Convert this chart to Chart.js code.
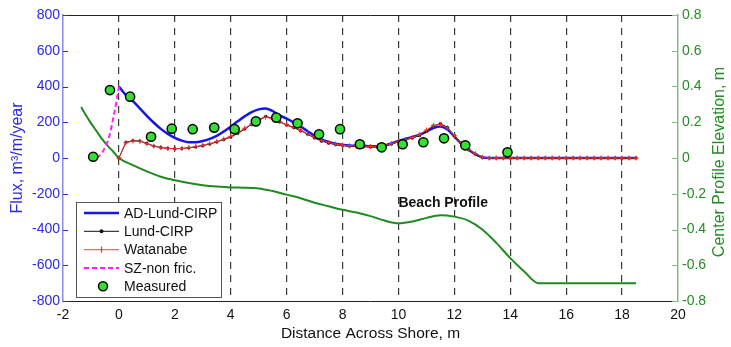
<!DOCTYPE html>
<html>
<head>
<meta charset="utf-8">
<script src="https://cdn.jsdelivr.net/npm/chart.js@4"></script>
<style>
  html, body { margin: 0; padding: 0; background: #fff; }
  canvas { display: block; }
</style>
</head>
<body>
<canvas id="flux-chart" width="731" height="347"></canvas>
<script>
// Data
const modelX = [
    0, 0.25, 0.5, 0.75, 1, 1.25, 1.5, 1.75, 2, 2.25, 2.5, 2.75, 3, 3.25, 3.5, 3.75,
    4, 4.25, 4.5, 4.75, 5, 5.25, 5.5, 5.75, 6, 6.25, 6.5, 6.75, 7, 7.25, 7.5, 7.75,
    8, 8.25, 8.5, 8.75, 9, 9.25, 9.5, 9.75, 10, 10.25, 10.5, 10.75, 11, 11.25, 11.5, 11.75,
    12, 12.25, 12.5, 12.75, 13, 13.25, 13.5, 13.75, 14, 14.25, 14.5, 14.75, 15, 15.25, 15.5, 15.75,
    16, 16.25, 16.5, 16.75, 17, 17.25, 17.5, 17.75, 18, 18.25, 18.5
];
const adLundCirp = [
    400, 352, 318, 278, 236, 197, 163, 135, 113, 97, 88, 88, 95, 107, 124, 148,
    176, 205, 233, 257, 272, 277, 262, 238, 220, 199, 176, 150, 124, 104, 90, 80,
    74, 70, 68, 67, 66, 66, 70, 82, 95, 107, 118, 130, 148, 168, 176, 160,
    120, 80, 48, 22, 4, 0, 0, 0, 0, 0, 0, 0, 0, 0, 0, 0,
    0, 0, 0, 0, 0, 0, 0, 0, 0, 0, 0
];
const lundCirp = [
    0, 88, 97, 95, 82, 67, 59, 54, 52, 53, 57, 62, 69, 78, 90, 103,
    117, 137, 162, 188, 214, 233, 222, 202, 184, 170, 153, 133, 112, 94, 83, 75,
    70, 66, 64, 63, 62, 61, 65, 78, 90, 101, 112, 125, 150, 180, 192, 172,
    125, 80, 48, 22, 3, 0, 0, 0, 0, 0, 0, 0, 0, 0, 0, 0,
    0, 0, 0, 0, 0, 0, 0, 0, 0, 0, 0
];
const watanabe = [
    0, 85, 95, 93, 80, 66, 58, 53, 52, 54, 58, 64, 71, 80, 92, 106,
    121, 141, 166, 190, 212, 228, 220, 203, 187, 172, 155, 136, 115, 97, 86, 78,
    72, 68, 66, 65, 65, 66, 70, 80, 91, 102, 114, 130, 156, 182, 188, 168,
    124, 82, 50, 24, 5, 0, 0, 0, 0, 0, 0, 0, 0, 0, 0, 0,
    0, 0, 0, 0, 0, 0, 0, 0, 0, 0, 0
];

const szX = [-0.8, -0.7, -0.6, -0.5, -0.4, -0.3, -0.2, -0.1, 0];
const szNonFric = [0, 12, 30, 58, 95, 150, 225, 305, 400];

const measuredX = [-0.92, -0.32, 0.4, 1.15, 1.89, 2.64, 3.41, 4.14, 4.9, 5.63,
    6.39, 7.16, 7.91, 8.62, 9.4, 10.15, 10.89, 11.63, 12.39, 13.9];
const measuredY = [7, 380, 343, 119, 164, 161, 170, 161, 205, 226,
    194, 133, 161, 77, 60, 77, 88, 110, 71, 32];

const profileX = [-1.35, -1.2, -1, -0.8, -0.6, -0.4, -0.2, 0, 0.5, 1, 1.5, 2, 2.5, 3, 3.5, 4,
    4.5, 5, 5.5, 6, 6.5, 7, 7.5, 8, 8.5, 9, 9.5, 10, 10.5, 11, 11.5, 12,
    12.5, 13, 13.5, 14, 14.5, 15, 16, 17, 18, 18.5];
const profileZ = [0.285, 0.245, 0.195, 0.15, 0.105, 0.068, 0.035, 0, -0.04, -0.075, -0.105, -0.125, -0.14, -0.152, -0.16, -0.165,
    -0.166, -0.17, -0.185, -0.205, -0.225, -0.25, -0.27, -0.29, -0.305, -0.325, -0.35, -0.365, -0.355, -0.335, -0.32, -0.328,
    -0.35, -0.4, -0.475, -0.56, -0.635, -0.7, -0.7, -0.7, -0.7, -0.7];

const xTicks = [-2, 0, 2, 4, 6, 8, 10, 12, 14, 16, 18, 20];

// Colours
const BLUE = '#1616e6';
const BLUE_TEXT = '#2a2ae0';
const BLUE_AXIS = '#8a8af5';
const GREEN = '#1f8a1f';
const GREEN_TEXT = '#238c23';
const GREEN_AXIS = '#7cc07c';
const RED = '#e83030';
const MAGENTA = '#ff22ff';
const DOT_FILL = '#33e033';
const FONT = '"Liberation Sans", Arial, Helvetica, sans-serif';

function toPoints(xs, ys) {
    return xs.map((x, i) => ({ x: x, y: ys[i] }));
}

// Inward tick marks, top border, right title, annotation and the boxed legend
const decorPlugin = {
    id: 'decor',
    afterDraw(chart) {
        const { ctx, chartArea } = chart;
        const yL = chart.scales.y;
        const yR = chart.scales.y2;
        const xS = chart.scales.x;

        ctx.save();
        // top border
        ctx.strokeStyle = '#222';
        ctx.lineWidth = 1;
        ctx.beginPath();
        ctx.moveTo(chartArea.left, chartArea.top + 0.5);
        ctx.lineTo(chartArea.right, chartArea.top + 0.5);
        ctx.stroke();

        // inward ticks
        ctx.strokeStyle = BLUE_TEXT;
        yL.ticks.forEach(t => {
            const py = Math.round(yL.getPixelForValue(t.value)) + 0.5;
            ctx.beginPath();
            ctx.moveTo(chartArea.left, py);
            ctx.lineTo(chartArea.left + 5, py);
            ctx.stroke();
        });
        ctx.strokeStyle = GREEN_AXIS;
        yR.ticks.forEach(t => {
            const py = Math.round(yR.getPixelForValue(t.value)) + 0.5;
            ctx.beginPath();
            ctx.moveTo(chartArea.right, py);
            ctx.lineTo(chartArea.right - 6, py);
            ctx.stroke();
        });

        // right axis title, reading bottom to top
        ctx.fillStyle = GREEN_TEXT;
        ctx.font = '16px ' + FONT;
        ctx.textAlign = 'center';
        ctx.textBaseline = 'middle';
        ctx.translate(720, (chartArea.top + chartArea.bottom) / 2 + 4);
        ctx.rotate(-Math.PI / 2);
        ctx.fillText('Center Profile Elevation, m', 0, 0);
        ctx.setTransform(1, 0, 0, 1, 0, 0);

        // profile label
        ctx.fillStyle = '#111';
        ctx.font = 'bold 14px ' + FONT;
        ctx.textAlign = 'left';
        ctx.fillText('Beach Profile', xS.getPixelForValue(10), yR.getPixelForValue(-0.253));

        // legend box
        const bx = 76, by = 202, bw = 145, bh = 95;
        ctx.fillStyle = '#fff';
        ctx.fillRect(bx, by, bw, bh);
        ctx.strokeStyle = '#555';
        ctx.lineWidth = 1;
        ctx.strokeRect(bx + 0.5, by + 0.5, bw, bh);

        const items = ['AD-Lund-CIRP', 'Lund-CIRP', 'Watanabe', 'SZ-non fric.', 'Measured'];
        const x1 = 84, x2 = 119, xm = (x1 + x2) / 2;
        ctx.font = '14px ' + FONT;
        items.forEach((label, i) => {
            const ly = 213 + i * 18.3;
            ctx.save();
            if (i === 0) {
                ctx.strokeStyle = BLUE; ctx.lineWidth = 2.5;
            } else if (i === 1) {
                ctx.strokeStyle = '#111'; ctx.lineWidth = 1;
            } else if (i === 2) {
                ctx.strokeStyle = '#ec6a6a'; ctx.lineWidth = 1.2;
            } else if (i === 3) {
                ctx.strokeStyle = MAGENTA; ctx.lineWidth = 2; ctx.setLineDash([5, 3]);
            }
            if (i < 4) {
                ctx.beginPath(); ctx.moveTo(x1, ly); ctx.lineTo(x2, ly); ctx.stroke();
            }
            ctx.setLineDash([]);
            if (i === 1) {
                ctx.fillStyle = '#111';
                ctx.beginPath(); ctx.arc(xm, ly, 2, 0, Math.PI * 2); ctx.fill();
            } else if (i === 2) {
                ctx.strokeStyle = RED;
                ctx.beginPath(); ctx.moveTo(xm, ly - 3); ctx.lineTo(xm, ly + 3); ctx.stroke();
            } else if (i === 4) {
                ctx.fillStyle = DOT_FILL; ctx.strokeStyle = '#000'; ctx.lineWidth = 1.5;
                ctx.beginPath(); ctx.arc(103, ly, 4.5, 0, Math.PI * 2); ctx.fill(); ctx.stroke();
            }
            ctx.restore();
            ctx.fillStyle = '#111';
            ctx.textAlign = 'left';
            ctx.textBaseline = 'middle';
            ctx.fillText(label, 124, ly + 1);
        });
        ctx.restore();
    }
};

function createFluxChart() {
    const ctx = document.getElementById('flux-chart').getContext('2d');

    return new Chart(ctx, {
        type: 'line',
        data: {
            datasets: [
                {
                    label: 'Measured',
                    data: toPoints(measuredX, measuredY),
                    showLine: false,
                    pointRadius: 4.6,
                    pointBackgroundColor: DOT_FILL,
                    pointBorderColor: '#000',
                    pointBorderWidth: 1.5,
                    yAxisID: 'y',
                    order: 0
                },
                {
                    label: 'SZ-non fric.',
                    data: toPoints(szX, szNonFric),
                    borderColor: MAGENTA,
                    borderWidth: 2,
                    borderDash: [5, 3],
                    pointRadius: 0,
                    cubicInterpolationMode: 'monotone',
                    yAxisID: 'y',
                    order: 1
                },
                {
                    label: 'Watanabe',
                    data: toPoints(modelX, watanabe),
                    borderColor: RED,
                    borderWidth: 1,
                    pointStyle: 'cross',
                    pointRadius: 2.5,
                    pointBorderColor: RED,
                    pointBorderWidth: 1,
                    yAxisID: 'y',
                    order: 2
                },
                {
                    label: 'Lund-CIRP',
                    data: toPoints(modelX, lundCirp),
                    borderColor: '#111',
                    borderWidth: 1,
                    pointRadius: 1.6,
                    pointBackgroundColor: '#111',
                    pointBorderWidth: 0,
                    yAxisID: 'y',
                    order: 3
                },
                {
                    label: 'AD-Lund-CIRP',
                    data: toPoints(modelX, adLundCirp),
                    borderColor: BLUE,
                    borderWidth: 2.5,
                    pointRadius: 0,
                    cubicInterpolationMode: 'monotone',
                    yAxisID: 'y',
                    order: 4
                },
                {
                    label: 'Beach Profile',
                    data: toPoints(profileX, profileZ),
                    borderColor: GREEN,
                    borderWidth: 2,
                    pointRadius: 0,
                    cubicInterpolationMode: 'monotone',
                    yAxisID: 'y2',
                    order: 5
                }
            ]
        },
        options: {
            responsive: false,
            animation: false,
            devicePixelRatio: 1,
            layout: { padding: { top: 15, left: 0, right: 0, bottom: 0 } },
            plugins: {
                legend: { display: false },
                tooltip: { enabled: false }
            },
            scales: {
                x: {
                    type: 'linear',
                    min: -2,
                    max: 20,
                    afterBuildTicks: scale => { scale.ticks = xTicks.map(v => ({ value: v })); },
                    afterFit: scale => { scale.height = 46; },
                    grid: {
                        drawTicks: false,
                        lineWidth: 1.2,
                        color: c => (c.tick && (c.tick.value === -2 || c.tick.value === 20)) ? 'rgba(0,0,0,0)' : '#3a3a3a'
                    },
                    border: { color: '#222', width: 1, dash: [7, 6] },
                    ticks: {
                        color: '#111',
                        padding: 6,
                        font: { family: FONT, size: 14 },
                        callback: v => String(v)
                    },
                    title: {
                        display: true,
                        text: 'Distance Across Shore, m',
                        color: '#111',
                        font: { family: FONT, size: 15.5 },
                        padding: { top: 0, bottom: 4 }
                    }
                },
                y: {
                    position: 'left',
                    min: -800,
                    max: 800,
                    afterFit: scale => { scale.width = 63; },
                    grid: { display: false, drawTicks: false },
                    border: { color: BLUE_AXIS, width: 1.5 },
                    ticks: {
                        stepSize: 200,
                        autoSkip: false,
                        color: BLUE_TEXT,
                        padding: 3,
                        font: { family: FONT, size: 14 }
                    },
                    title: {
                        display: true,
                        text: 'Flux, m³/m/year',
                        color: BLUE_TEXT,
                        font: { family: FONT, size: 16 },
                        padding: { top: 8, bottom: 0 }
                    }
                },
                y2: {
                    position: 'right',
                    min: -0.8,
                    max: 0.8,
                    afterFit: scale => { scale.width = 53; },
                    grid: { display: false, drawTicks: false },
                    border: { color: GREEN_AXIS, width: 1.5 },
                    ticks: {
                        stepSize: 0.2,
                        autoSkip: false,
                        color: GREEN_TEXT,
                        padding: 4,
                        font: { family: FONT, size: 14 },
                        callback: v => String(Number(v.toFixed(1)))
                    }
                }
            }
        },
        plugins: [decorPlugin]
    });
}

document.addEventListener('DOMContentLoaded', function() {
    createFluxChart();
});
</script>
</body>
</html>
